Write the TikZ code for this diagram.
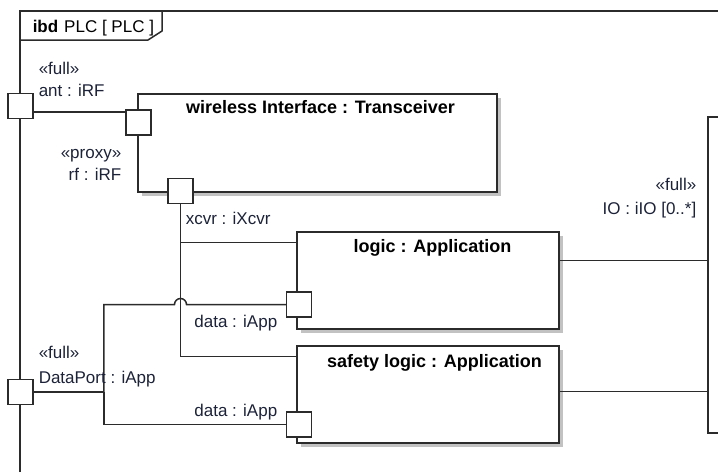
\documentclass[tikz,border=0pt]{standalone}
\usepackage{fontspec}
\setmainfont{Liberation Sans}
\usepackage{tikz}
\usetikzlibrary{
    calc,
    shadows
}
\definecolor{lncol}{HTML}{2B2B2B}
\definecolor{txcol}{HTML}{1C2238}

\begin{document}
\begin{tikzpicture}[x=1pt,y=-1pt,line width=1.5pt,color=lncol]
    \tikzstyle{part}=[draw=lncol, fill=white, rectangle, inner sep=0pt, drop shadow={shadow xshift=4pt, shadow yshift=-4pt, fill=black!40, opacity=0.6}]
    \tikzstyle{port}=[draw=lncol, fill=white, rectangle, inner sep=0pt, minimum size=25pt]
    \tikzstyle{lbl}=[inner sep=0pt, text=txcol, font=\fontsize{17}{20}\selectfont]
    \tikzstyle{ttl}=[inner sep=0pt, text=black, font=\fontsize{18}{21}\selectfont\bfseries]
    \useasboundingbox (0,0) rectangle (718,472);
    \draw (20,472) -- (20,11) -- (730,11);
    \draw (20,40) -- (148,40) -- (162,31) -- (162,11);
    \node [lbl, anchor=base west, text=black] (frm) at (32,32) {\textbf{ibd}\hspace{6pt}PLC [ PLC ]};

    \node [part, minimum width=359pt, minimum height=98pt] (wifi) at (317.5, 143) {};
    \node [part, minimum width=262pt, minimum height=97pt] (logic) at (428, 280.5) {};
    \node [part, minimum width=262pt, minimum height=97pt] (safety) at (428, 394.5) {};
    \node [draw=lncol, fill=white, rectangle, inner sep=0pt, minimum width=40pt, minimum height=316pt] (io) at (728, 275) {};
    \node [ttl, anchor=base] (wifit) at (320.5, 113) {wireless Interface : Transceiver};
    \node [ttl, anchor=base] (logict) at (432.5, 252) {logic : Application};
    \node [ttl, anchor=base] (safetyt) at (434.5, 367) {safety logic : Application};

    \node [port] (ant) at (20.5, 106) {};
    \node [port] (rf) at (138.5, 122.5) {};
    \node [port] (xcvr) at (180.5, 191) {};
    \node [port] (dp) at (20.5, 392) {};
    \node [port] (ldata) at (299, 304.5) {};
    \node [port] (sdata) at (299, 424.5) {};

    \coordinate (split) at ($(dp.east)+(70,0)$);
    \coordinate (lo) at ($(logic.north east)+(0,29)$);
    \coordinate (so) at ($(safety.north east)+(0,46)$);
    \draw ($(ant.east)+(0,6)$) -- ($(rf.west)+(0,-10.5)$);
    \draw (xcvr.south) |- ($(logic.north west)+(0,11)$);
    \draw (xcvr.south) |- ($(safety.north west)+(0,11)$);
    \draw (dp.east) -- (split);
    \draw (split) |- ($(xcvr.south |- ldata.west)+(-6,0)$) arc[start angle=180, end angle=360, radius=6] -- (ldata.west);
    \draw (split) |- (sdata.west);
    \draw (lo) -- (lo -| io.west);
    \draw (so) -- (so -| io.west);

    \node [lbl, anchor=base west] (antst) at (38, 74) {«full»};
    \node [lbl, anchor=base west] (antnm) at (38, 96) {ant : iRF};
    \node [lbl, anchor=base east] (rfst) at (122, 158) {«proxy»};
    \node [lbl, anchor=base east] (rfnm) at (122, 180) {rf : iRF};
    \node [lbl, anchor=base west] (xcvrnm) at (185, 224) {xcvr : iXcvr};
    \node [lbl, anchor=base east] (ldatanm) at (278, 327) {data : iApp};
    \node [lbl, anchor=base east] (sdatanm) at (278, 416) {data : iApp};
    \node [lbl, anchor=base west] (dpst) at (38, 358) {«full»};
    \node [lbl, anchor=base west] (dpnm) at (38, 383) {DataPort : iApp};
    \node [lbl, anchor=base east] (iost) at (697, 190) {«full»};
    \node [lbl, anchor=base east] (ionm) at (697, 214) {IO : iIO [0..*]};
\end{tikzpicture}
\end{document}
